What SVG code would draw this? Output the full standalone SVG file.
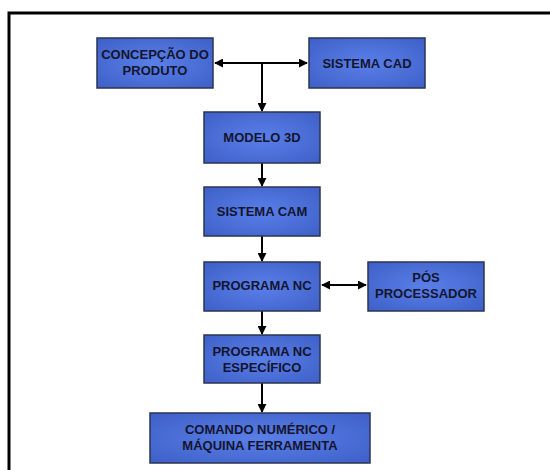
<svg xmlns="http://www.w3.org/2000/svg" width="550" height="470" viewBox="0 0 550 470">
<defs>
<radialGradient id="g" cx="50%" cy="50%" r="70%">
<stop offset="0" stop-color="#5a7fe8"/>
<stop offset="1" stop-color="#3e5fc8"/>
</radialGradient>
<marker id="ah" viewBox="0 0 10 10" refX="9" refY="5" markerWidth="9" markerHeight="9" markerUnits="userSpaceOnUse" orient="auto-start-reverse">
<path d="M0,0 L10,5 L0,10 z" fill="#000"/>
</marker>
<style>
.box{fill:url(#g);stroke:#2b3550;stroke-width:1.5}
.t{font-family:"Liberation Sans",Arial,sans-serif;font-weight:bold;font-size:13px;fill:#14152e;text-anchor:middle}
.c{stroke:#000;stroke-width:2;fill:none}
</style>
</defs>
<rect width="550" height="470" fill="#fff"/>
<path d="M9,470 V13 H550" fill="none" stroke="#000" stroke-width="3"/>
<g id="connectors">
<line class="c" x1="215" y1="63" x2="307" y2="63" marker-start="url(#ah)" marker-end="url(#ah)"/>
<line class="c" x1="262" y1="63" x2="262" y2="111" marker-end="url(#ah)"/>
<line class="c" x1="262" y1="163" x2="262" y2="186" marker-end="url(#ah)"/>
<line class="c" x1="262" y1="236" x2="262" y2="261" marker-end="url(#ah)"/>
<line class="c" x1="322" y1="285" x2="366" y2="285" marker-start="url(#ah)" marker-end="url(#ah)"/>
<line class="c" x1="262" y1="311" x2="262" y2="334" marker-end="url(#ah)"/>
<line class="c" x1="262" y1="383" x2="262" y2="412" marker-end="url(#ah)"/>
</g>
<g id="concepcao"><rect class="box" x="97" y="38" width="116" height="50"/><text class="t" x="155" y="59">CONCEPÇÃO DO</text><text class="t" x="155" y="75">PRODUTO</text></g>
<g id="cad"><rect class="box" x="309" y="38" width="116" height="50"/><text class="t" x="367" y="68">SISTEMA CAD</text></g>
<g id="modelo"><rect class="box" x="204" y="112" width="116" height="51"/><text class="t" x="262" y="142">MODELO 3D</text></g>
<g id="cam"><rect class="box" x="204" y="187" width="116" height="49"/><text class="t" x="262" y="216">SISTEMA CAM</text></g>
<g id="nc"><rect class="box" x="204" y="262" width="116" height="49"/><text class="t" x="262" y="290">PROGRAMA NC</text></g>
<g id="pos"><rect class="box" x="368" y="262" width="116" height="49"/><text class="t" x="426" y="282">PÓS</text><text class="t" x="426" y="298">PROCESSADOR</text></g>
<g id="ncesp"><rect class="box" x="204" y="335" width="116" height="48"/><text class="t" x="262" y="356">PROGRAMA NC</text><text class="t" x="262" y="372">ESPECÍFICO</text></g>
<g id="comando"><rect class="box" x="150" y="413" width="220" height="50"/><text class="t" x="260" y="434">COMANDO NUMÉRICO /</text><text class="t" x="260" y="450">MÁQUINA FERRAMENTA</text></g>
</svg>
